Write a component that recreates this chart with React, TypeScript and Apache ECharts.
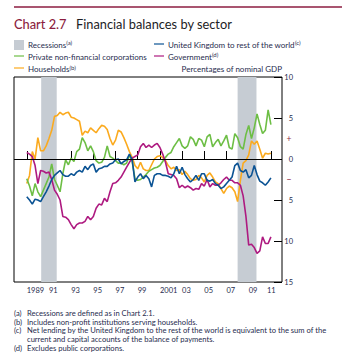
import React, { useEffect, useRef } from "react";
import * as echarts from "echarts";

const START_YEAR = 1989;

const households = [
  -3.0, -2.0, 0.9, 0.0, 2.6, 1.0, 1.0, 1.6, 2.5, 3.5,
  5.2, 5.3, 5.7, 5.4, 5.6, 5.7, 5.1, 5.0, 4.8, 4.6,
  2.9, 3.4, 3.2, 3.8, 3.5, 3.2, 3.7, 4.1, 4.0, 3.6,
  2.5, 1.7, 2.3, 3.5, 3.3, 2.6, 1.8, 0.9, 0.2, -0.8,
  -1.2, -0.4, -1.2, -1.4, -1.4, -0.7, 0.0, 0.3, 0.4, 0.2,
  -0.2, -0.8, -1.2, -1.0, -1.4, -1.3, -1.9, -1.5, -1.9, -2.4,
  -2.6, -2.5, -2.0, -2.3, -2.8, -2.0, -1.7, -2.2, -2.8, -3.0,
  -3.6, -4.2, -3.6, -3.3, -3.5, -4.0, -5.2, -2.6, -0.5, -0.2,
  0.5, 2.2, 1.8, 2.2, 1.2, 0.1, 0.7, 0.6, 0.7,
];

const corporations = [
  -2.4, -3.3, -4.5, -3.0, -4.0, -4.6, -3.8, -3.0, -2.2, -0.6,
  -2.5, -3.2, -4.0, -1.8, -0.1, -0.7, 0.1, -0.3, 0.9, 1.2,
  2.6, 2.0, 1.0, 1.6, 0.9, -0.2, -0.5, -0.4, 0.2, 1.6,
  0.3, 0.1, -0.2, -0.5, -0.5, -0.7, -0.5, 0.5, -0.3, -2.4,
  -2.6, -2.5, -2.2, -1.9, -1.5, -1.3, -1.1, -1.0, -0.8, -0.3,
  0.2, 0.6, 0.8, 1.5, 2.0, 2.5, 1.6, 1.3, 1.6, 2.7,
  2.4, 1.6, 2.5, 2.3, 1.5, 2.7, 3.0, 1.5, 2.0, 2.4,
  1.6, 2.2, 2.9, 1.4, 1.2, 3.1, 2.6, 1.5, 1.2, 3.0,
  4.1, 2.5, 3.8, 5.5, 4.2, 3.1, 3.5, 6.0, 4.2,
];

const restOfWorld = [
  -4.6, -5.0, -5.5, -4.9, -5.0, -5.2, -4.6, -4.0, -3.3, -2.5,
  -2.0, -1.7, -1.4, -1.9, -2.1, -2.1, -1.8, -2.0, -1.6, -1.4,
  -1.6, -0.9, -1.3, -0.8, -0.6, -1.6, -1.2, -1.1, -0.9, -0.9,
  -0.6, -0.5, -0.1, 0.0, -0.6, -0.3, -0.1, 0.6, -0.1, -2.8,
  -2.2, -1.8, -2.4, -2.0, -2.4, -3.4, -2.0, -1.8, -1.8, -2.0,
  -2.0, -2.1, -2.3, -1.8, -0.9, -1.8, -1.0, -1.9, -2.4, -2.8,
  -2.5, -2.0, -2.6, -1.8, -1.8, -2.6, -2.7, -2.5, -3.0, -3.2,
  -3.6, -3.4, -3.0, -2.6, -2.2, -0.8, -0.5, -1.4, -1.6, -1.3,
  -2.3, -2.0, -0.8, -1.9, -2.7, -2.9, -3.2, -2.8, -2.3,
];

const government = [
  0.8, 0.6, 0.3, -0.8, -3.0, -1.4, -1.5, -1.7, -1.6, -2.5,
  -3.8, -4.3, -5.0, -7.0, -7.1, -7.4, -8.0, -8.5, -8.0, -7.8,
  -7.8, -7.6, -7.0, -7.4, -7.0, -6.0, -5.5, -5.6, -4.8, -5.2,
  -4.0, -3.0, -2.9, -2.6, -2.2, -1.6, -1.0, -0.4, 0.1, 0.3,
  0.5, 1.5, 1.9, 1.4, 1.7, 1.4, 1.7, 1.9, 1.4, 0.6,
  -0.4, -1.8, -1.9, -2.0, -2.4, -3.5, -3.2, -3.5, -3.3, -3.5,
  -3.8, -3.6, -3.7, -3.0, -3.3, -2.5, -3.4, -3.0, -3.2, -3.2,
  -2.9, -2.5, -2.2, -2.6, -2.6, -2.9, -2.9, -3.2, -4.5, -7.0,
  -10.5, -10.4, -10.8, -11.5, -11.2, -9.5, -10.3, -10.3, -9.5,
];

const recessions = [
  [1990.3, 1991.7],
  [2008.0, 2009.7],
];

const xTickYears = [1989, 1991, 1993, 1995, 1997, 1999, 2001, 2003, 2005, 2007, 2009, 2011];
const xTickLabels = ["1989", "91", "93", "95", "97", "99", "2001", "03", "05", "07", "09", "11"];

const FONT = "Lato";
const TEXT = "#272c4e";
const MAROON = "#8C1D40";
const COLORS = {
  corporations: "#6DBE45",
  households: "#FBAA1E",
  world: "#0B5394",
  government: "#AE1A80",
  recession: "#C6CCD3",
};

const toPoints = (vals: number[]) => vals.map((v, i) => [START_YEAR + i / 4, v]);

function txt(x: number, y: number, text: string, extra: any = {}) {
  return {
    type: "text",
    x,
    y,
    silent: true,
    style: {
      text,
      fill: TEXT,
      fontFamily: FONT,
      fontSize: 8,
      align: "left",
      verticalAlign: "middle",
      textAlign: "left",
      textVerticalAlign: "middle",
      rich: {
        sup: { fontSize: 6, fontFamily: FONT, fill: TEXT, padding: [0, 0, 4, 0] },
      },
      ...extra,
    },
  };
}

function legendLine(x: number, y: number, color: string) {
  return {
    type: "line",
    silent: true,
    shape: { x1: x, y1: y, x2: x + 10, y2: y },
    style: { stroke: color, lineWidth: 1.2 },
  };
}

const NOTE = { fontSize: 7.6 };

export default function App() {
  const ref = useRef<HTMLDivElement>(null);

  useEffect(() => {
    if (!ref.current) return;
    const chart = echarts.init(ref.current, null, { renderer: "svg" });

    const lineSeries = (name: string, data: number[], color: string) => ({
      name,
      type: "line",
      data: toPoints(data),
      showSymbol: false,
      symbol: "none",
      z: 3,
      lineStyle: { color, width: 1.6 },
      itemStyle: { color },
    });

    const option: any = {
      animation: false,
      textStyle: { fontFamily: FONT },
      grid: {
        left: 14,
        top: 77,
        right: 69,
        bottom: 82,
        show: true,
        borderColor: "#000",
        borderWidth: 1,
        backgroundColor: "transparent",
        containLabel: false,
      },
      xAxis: {
        type: "value",
        min: 1987.85,
        max: 2012.0,
        axisLine: { show: false },
        splitLine: { show: false },
        axisTick: {
          show: true,
          inside: true,
          length: 8,
          customValues: xTickYears,
          lineStyle: { color: "#000", width: 1 },
        },
        axisLabel: {
          show: true,
          customValues: [...xTickYears.slice(0, -1), 2010.64],
          formatter: (v: number) => {
            const idx = xTickYears.indexOf(Math.round(v));
            return idx >= 0 ? xTickLabels[idx] : "";
          },
          align: "left",
          margin: 4,
          fontSize: 7.5,
          fontFamily: FONT,
          color: TEXT,
        },
      },
      yAxis: [
        {
          type: "value",
          position: "right",
          min: -15,
          max: 10,
          interval: 5,
          axisLine: { show: false },
          splitLine: { show: false },
          axisTick: {
            show: true,
            inside: true,
            length: 8,
            lineStyle: { color: "#000", width: 1 },
          },
          axisLabel: {
            show: true,
            showMinLabel: true,
            showMaxLabel: true,
            formatter: (v: number) => String(Math.abs(v)),
            align: "right",
            margin: 11,
            fontSize: 7.5,
            fontFamily: FONT,
            color: TEXT,
          },
        },
        {
          type: "value",
          position: "right",
          min: -15,
          max: 10,
          interval: 2.5,
          axisLine: { show: false },
          splitLine: { show: false },
          axisTick: { show: false },
          axisLabel: {
            show: true,
            formatter: (v: number) => (v === 2.5 ? "+" : v === -2.5 ? "−" : ""),
            align: "center",
            margin: 7,
            fontSize: 8.5,
            fontFamily: FONT,
            color: MAROON,
          },
        },
      ],
      series: [
        {
          name: "frame",
          type: "line",
          data: [],
          z: 1,
          silent: true,
          markArea: {
            silent: true,
            itemStyle: { color: COLORS.recession },
            data: recessions.map(([a, b]) => [{ xAxis: a }, { xAxis: b }]),
          },
          markLine: {
            silent: true,
            symbol: ["none", "none"],
            label: { show: false },
            lineStyle: { color: "#000", width: 1, type: "solid" },
            data: [{ yAxis: 0 }],
          },
        },
        lineSeries("Households", households, COLORS.households),
        lineSeries("Private non-financial corporations", corporations, COLORS.corporations),
        lineSeries("Government", government, COLORS.government),
        lineSeries("United Kingdom to rest of the world", restOfWorld, COLORS.world),
      ],
      graphic: [
        {
          type: "line",
          silent: true,
          shape: { x1: 14, y1: 7, x2: 342, y2: 7 },
          style: { stroke: MAROON, lineWidth: 1.5 },
        },
        txt(14, 23.5, "Chart 2.7", { fontSize: 12.8, fill: MAROON, fontWeight: 500 }),
        txt(76, 23.5, "Financial balances by sector", { fontSize: 12.8, fill: "#1c1c24" }),
        {
          type: "rect",
          silent: true,
          shape: { x: 14, y: 40, width: 10, height: 10 },
          style: { fill: COLORS.recession },
        },
        txt(28, 44.5, "Recessions{sup|(a)}"),
        legendLine(14, 56, COLORS.corporations),
        txt(28, 56.5, "Private non-financial corporations"),
        legendLine(14, 68, COLORS.households),
        txt(28, 69, "Households{sup|(b)}"),
        legendLine(154, 44, COLORS.world),
        txt(168, 44.5, "United Kingdom to rest of the world{sup|(c)}"),
        legendLine(154, 56, COLORS.government),
        txt(168, 56.5, "Government{sup|(d)}"),
        txt(282, 69, "Percentages of nominal GDP", { align: "right", textAlign: "right" }),
        txt(14, 313, "(a)", NOTE),
        txt(27, 313, "Recessions are defined as in Chart 2.1.", NOTE),
        txt(14, 321.7, "(b)", NOTE),
        txt(27, 321.7, "Includes non-profit institutions serving households.", NOTE),
        txt(14, 330.4, "(c)", NOTE),
        txt(27, 330.4, "Net lending by the United Kingdom to the rest of the world is equivalent to the sum of the", NOTE),
        txt(27, 339.1, "current and capital accounts of the balance of payments.", NOTE),
        txt(14, 347.8, "(d)", NOTE),
        txt(27, 347.8, "Excludes public corporations.", NOTE),
      ],
    };

    chart.setOption(option);
    return () => chart.dispose();
  }, []);

  return (
    <div
      ref={ref}
      style={{ position: "absolute", left: 0, top: 0, width: 351, height: 364, background: "#fff" }}
    />
  );
}
